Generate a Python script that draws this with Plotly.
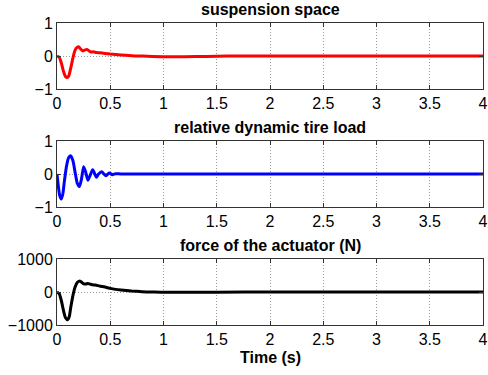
import plotly.graph_objects as go

# ---- data ----
t_susp = [0, 0.02, 0.04, 0.06, 0.08, 0.095, 0.11, 0.13, 0.15, 0.17, 0.19, 0.205, 0.22, 0.24,
          0.26, 0.28, 0.30, 0.32, 0.34, 0.37, 0.40, 0.45, 0.5, 0.6, 0.7, 0.8, 0.9, 1.0, 1.2,
          1.4, 1.6, 2.0, 2.5, 3.0, 3.5, 4.0]
y_susp = [0, -0.03, -0.2, -0.45, -0.62, -0.65, -0.6, -0.35, -0.05, 0.18, 0.27, 0.28, 0.22, 0.16,
          0.18, 0.2, 0.16, 0.12, 0.13, 0.11, 0.1, 0.08, 0.06, 0.03, 0.01, 0.0, -0.015, -0.02, -0.02,
          -0.01, 0, 0, 0, 0, 0, 0]

t_tire = [0, 0.01, 0.025, 0.04, 0.055, 0.07, 0.09, 0.11, 0.13, 0.15, 0.17, 0.19, 0.21, 0.23,
          0.25, 0.27, 0.29, 0.31, 0.335, 0.355, 0.37, 0.39, 0.42, 0.44, 0.46, 0.49, 0.52, 0.55,
          0.6, 1.0, 2.0, 3.0, 4.0]
y_tire = [0, -0.3, -0.65, -0.76, -0.6, -0.2, 0.25, 0.5, 0.55, 0.4, 0.05, -0.28, -0.38, -0.15,
          0.22, 0.05, -0.19, -0.05, 0.13, 0.0, -0.1, 0.0, 0.07, 0.0, -0.05, 0.03, -0.02, 0.01,
          0, 0, 0, 0, 0]

t_force = [0, 0.02, 0.04, 0.06, 0.08, 0.10, 0.115, 0.13, 0.15, 0.17, 0.19, 0.21, 0.23, 0.25,
           0.27, 0.29, 0.31, 0.33, 0.36, 0.4, 0.45, 0.5, 0.55, 0.6, 0.7, 0.8, 0.9, 1.0, 1.2,
           1.5, 2.0, 2.5, 3.0, 3.5, 4.0]
y_force = [0, -50, -250, -550, -780, -840, -750, -450, -100, 150, 290, 330, 300, 250,
           240, 260, 240, 220, 210, 180, 150, 110, 80, 60, 30, 10, 0, -10, -10,
           -5, 0, 0, 0, 0, 0]

titles = ["suspension space", "relative dynamic tire load", "force of the actuator (N)"]
x_label = "Time (s)"
x_ticks = [0, 0.5, 1, 1.5, 2, 2.5, 3, 3.5, 4]
x_tick_text = ["0", "0.5", "1", "1.5", "2", "2.5", "3", "3.5", "4"]
y_ticks_small = [-1, 0, 1]
y_ticks_force = [-1000, 0, 1000]

FONT = "Liberation Sans, Arial, sans-serif"

fig = go.Figure()
series = [(t_susp, y_susp, "#ff0000"), (t_tire, y_tire, "#0000ff"), (t_force, y_force, "#000000")]
for i, (t, y, c) in enumerate(series):
    fig.add_trace(go.Scatter(x=t, y=y, mode="lines",
                             line=dict(color=c, width=3, shape="spline", smoothing=0.6),
                             xaxis="x" if i == 0 else f"x{i+1}",
                             yaxis="y" if i == 0 else f"y{i+1}",
                             showlegend=False, hoverinfo="skip", cliponaxis=True))

domains = [[0.781, 1.0], [0.391, 0.609], [0.0, 0.2185]]
axis_common = dict(showline=True, linecolor="#333333", linewidth=1, mirror="ticks",
                   ticks="inside", ticklen=4, tickcolor="#333333", automargin=False,
                   showgrid=True, gridcolor="#9a9a9a", griddash="1px,2px", gridwidth=1,
                   zeroline=False, ticklabeloverflow="allow",
                   tickfont=dict(family=FONT, size=16, color="black"))
layout = dict(width=488, height=375, paper_bgcolor="white", plot_bgcolor="white",
              margin=dict(l=57, r=5, t=23, b=50), font=dict(family=FONT, color="black"))
for i in range(3):
    xs = "xaxis" if i == 0 else f"xaxis{i+1}"
    ys = "yaxis" if i == 0 else f"yaxis{i+1}"
    yref = "y" if i == 0 else f"y{i+1}"
    xref = "x" if i == 0 else f"x{i+1}"
    layout[xs] = dict(axis_common, range=[0, 4], tickvals=x_ticks, ticktext=x_tick_text,
                      anchor=yref, domain=[0, 1])
    yt = y_ticks_force if i == 2 else y_ticks_small
    rng = [-1000, 1000] if i == 2 else [-1, 1]
    layout[ys] = dict(axis_common, range=rng, tickvals=yt, anchor=xref, domain=domains[i])
fig.update_layout(**layout)

for i, ttl in enumerate(titles):
    fig.add_annotation(text=f"<b>{ttl}</b>", xref="paper", yref="paper", x=0.5, y=domains[i][1],
                       yshift=3, xanchor="center", yanchor="bottom", showarrow=False,
                       font=dict(family=FONT, size=16, color="black"))
fig.add_annotation(text=f"<b>{x_label}</b>", xref="paper", yref="paper", x=0.5, y=-0.108,
                   xanchor="center", yanchor="middle", showarrow=False,
                   font=dict(family=FONT, size=16, color="black"))

fig.write_html("out.html", config={"displayModeBar": False},
               post_script="document.body.style.margin='0';document.body.style.overflow='hidden';")
